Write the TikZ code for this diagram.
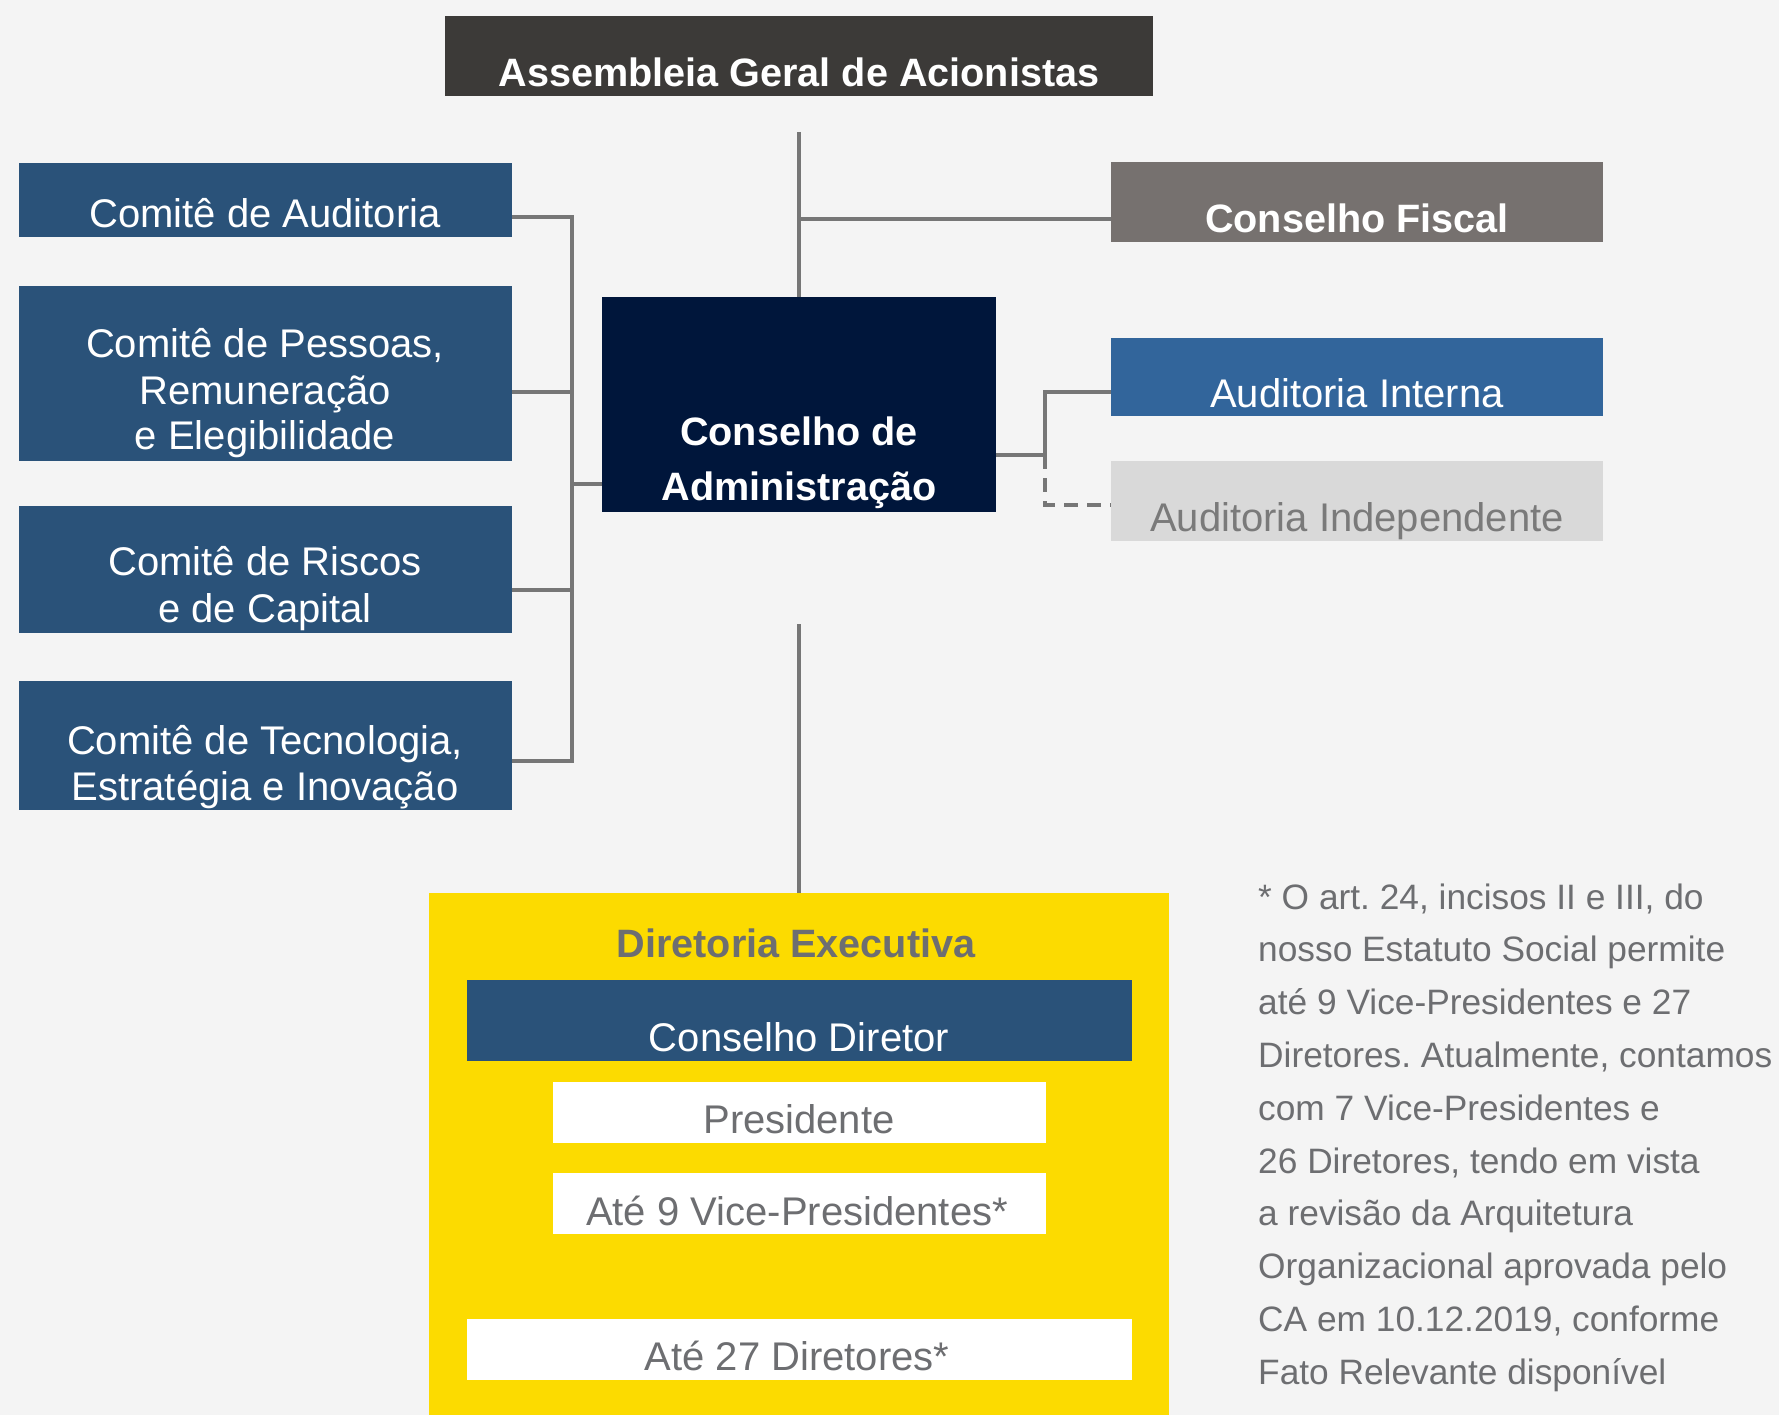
\documentclass[tikz,border=0pt]{standalone}
\usepackage{fontspec}
\setmainfont{Liberation Sans}
\frenchspacing
\definecolor{bgcol}{HTML}{F4F4F4}
\definecolor{asmcol}{HTML}{3C3A38}
\definecolor{comcol}{HTML}{2A5279}
\definecolor{cacol}{HTML}{00163B}
\definecolor{cfcol}{HTML}{76716F}
\definecolor{aicol}{HTML}{32659B}
\definecolor{aindcol}{HTML}{D9D9D9}
\definecolor{aindtxt}{HTML}{7A7A7A}
\definecolor{yelcol}{HTML}{FCDB00}
\definecolor{txtgray}{HTML}{6D6E71}
\definecolor{linecol}{HTML}{767676}
\begin{document}
\begin{tikzpicture}[x=1pt,y=-1pt,
  box/.style={rectangle, inner sep=0pt, outer sep=0pt, draw=none, anchor=north west},
  conn/.style={draw=linecol, line width=4pt},
  dconn/.style={draw=linecol, line width=4pt, dash pattern=on 14pt off 9pt},
  lbl/.style={anchor=base, inner sep=0pt, font=\fontsize{40}{48}\selectfont},
  blbl/.style={anchor=base, inner sep=0pt, font=\fontsize{39.6}{48}\selectfont\bfseries},
  fn/.style={anchor=base west, inner sep=0pt, text=txtgray, font=\fontsize{35.3}{52}\selectfont}]
\fill[bgcol] (0,0) rectangle (1779,1415);
\useasboundingbox (0,0) rectangle (1779,1415);

% boxes
\node[box, fill=asmcol, minimum width=708pt, minimum height=80pt] (asm) at (445,16) {};
\node[box, fill=comcol, minimum width=493pt, minimum height=74pt] (c1) at (19,163) {};
\node[box, fill=comcol, minimum width=493pt, minimum height=175pt] (c2) at (19,286) {};
\node[box, fill=comcol, minimum width=493pt, minimum height=127pt] (c3) at (19,506) {};
\node[box, fill=comcol, minimum width=493pt, minimum height=129pt] (c4) at (19,681) {};
\node[box, fill=cacol, minimum width=394pt, minimum height=215pt] (ca) at (602,297) {};
\node[box, fill=cfcol, minimum width=492pt, minimum height=80pt] (cf) at (1111,162) {};
\node[box, fill=aicol, minimum width=492pt, minimum height=78pt] (ai) at (1111,338) {};
\node[box, fill=aindcol, minimum width=492pt, minimum height=80pt] (aind) at (1111,461) {};
\node[box, fill=yelcol, minimum width=740pt, minimum height=525pt] (de) at (429,893) {};
\node[box, fill=comcol, minimum width=665pt, minimum height=81pt] (cd) at (467,980) {};
\node[box, fill=white, minimum width=493pt, minimum height=61pt] (pres) at (553,1082) {};
\node[box, fill=white, minimum width=493pt, minimum height=61pt] (vp) at (553,1173) {};
\node[box, fill=white, minimum width=665pt, minimum height=61pt] (dir) at (467,1319) {};

% connectors
\coordinate (topstart) at (799,132);
\coordinate (cfjoin) at (799,219);
\draw[conn] (topstart) -- (ca.north);
\draw[conn] (cfjoin) -- (cf.west |- cfjoin);

\coordinate (bk1) at (572,217);
\coordinate (bk2) at (572,392);
\coordinate (bk3) at (572,590);
\coordinate (bk4) at (572,761);
\coordinate (bkca) at (572,484);
\draw[conn] (c1.east |- bk1) -- (bk1) -- (bk4) -- (c4.east |- bk4);
\draw[conn] (c2.east |- bk2) -- (bk2);
\draw[conn] (c3.east |- bk3) -- (bk3);
\draw[conn] (bkca) -- (ca.west |- bkca);

\coordinate (rj) at (1045,455);
\coordinate (rtop) at (1045,392);
\coordinate (rbot) at (1045,505);
\draw[conn] (ca.east |- rj) -- (rj) -- (rtop) -- (ai.west |- rtop);
\draw[dconn] (rj) -- (rbot) -- (aind.west |- rbot);

\coordinate (botstart) at (799,624);
\draw[conn] (botstart) -- (de.north -| botstart);

% texts
\node[blbl, text=white] (tasm) at (799,87) {Assembleia Geral de Acionistas};
\node[lbl, text=white] (tc1) at (265,228) {Comitê de Auditoria};
\node[lbl, text=white] (tc2a) at (265,357) {Comitê de Pessoas,};
\node[lbl, text=white] (tc2b) at (265,404) {Remuneração};
\node[lbl, text=white] (tc2c) at (265,449) {e Elegibilidade};
\node[lbl, text=white] (tc3a) at (265,575) {Comitê de Riscos};
\node[lbl, text=white] (tc3b) at (265,622) {e de Capital};
\node[lbl, text=white] (tc4a) at (265,754) {Comitê de Tecnologia,};
\node[lbl, text=white] (tc4b) at (265,800) {Estratégia e Inovação};
\node[blbl, text=white] (tcaa) at (799,445) {Conselho de};
\node[blbl, text=white] (tcab) at (799,500) {Administração};
\node[blbl, text=white] (tcf) at (1357,233) {Conselho Fiscal};
\node[lbl, text=white] (tai) at (1357,407) {Auditoria Interna};
\node[lbl, text=aindtxt] (taind) at (1357,531) {Auditoria Independente};
\node[blbl, text=txtgray] (tde) at (796,957) {Diretoria Executiva};
\node[lbl, text=white] (tcd) at (799,1051) {Conselho Diretor};
\node[lbl, text=txtgray] (tpres) at (799,1133) {Presidente};
\node[lbl, text=txtgray] (tvp) at (797,1225) {Até 9 Vice-Presidentes*};
\node[lbl, text=txtgray] (tdir) at (797,1370) {Até 27 Diretores*};

% footnote
\node[fn] (f1) at (1258,909) {* O art. 24, incisos II e III, do};
\node[fn] (f2) at (1258,961.8) {nosso Estatuto Social permite};
\node[fn] (f3) at (1258,1014.6) {até 9 Vice-Presidentes e 27};
\node[fn] (f4) at (1258,1067.4) {Diretores. Atualmente, contamos};
\node[fn] (f5) at (1258,1120.2) {com 7 Vice-Presidentes e};
\node[fn] (f6) at (1258,1173) {26 Diretores, tendo em vista};
\node[fn] (f7) at (1258,1225.8) {a revisão da Arquitetura};
\node[fn] (f8) at (1258,1278.6) {Organizacional aprovada pelo};
\node[fn] (f9) at (1258,1331.4) {CA em 10.12.2019, conforme};
\node[fn] (f10) at (1258,1384.2) {Fato Relevante disponível};
\end{tikzpicture}
\end{document}
